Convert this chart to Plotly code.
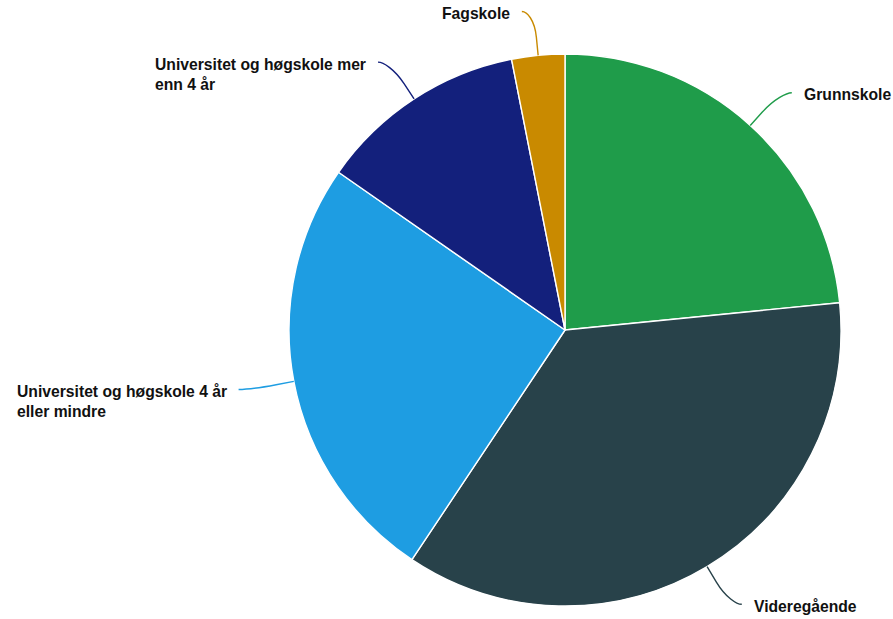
import math
import plotly.graph_objects as go

# Highest completed education (share of population, %)
categories = ["Grunnskole", "Videregående", "Universitet og høgskole 4 år eller mindre",
              "Universitet og høgskole mer enn 4 år", "Fagskole"]
label_text = ["Grunnskole", "Videregående", "Universitet og høgskole 4 år<br>eller mindre",
              "Universitet og høgskole mer<br>enn 4 år", "Fagskole"]
values = [23.4, 35.9, 25.3, 12.2, 3.1]
colors = ["#1f9c4a", "#28424a", "#1e9de2", "#13207c", "#c98a00"]

W, H = 893, 619
CX, CY, R = 565, 330, 276  # pie centre and radius in pixels
LABEL_DIST = 44            # distance of the connector end beyond the rim
LABEL_PUSH = 7             # extra horizontal push of the connector end
TEXT_GAP = 16              # gap between connector end and label text

fig = go.Figure(go.Pie(
    labels=categories,
    values=values,
    sort=False,
    direction="clockwise",
    rotation=0,
    textinfo="none",
    hoverinfo="label+percent",
    marker=dict(colors=colors, line=dict(color="#ffffff", width=1.4)),
    domain=dict(x=[(CX - R) / W, (CX + R) / W], y=[(H - CY - R) / H, (H - CY + R) / H]),
    showlegend=False,
))


def to_paper(px, py):
    return px / W, 1 - py / H


total = sum(values)
cum = 0.0
shapes, annotations = [], []
for lab, v, col in zip(label_text, values, colors):
    mid = (cum + v / 2) / total * 2 * math.pi
    cum += v
    s, c = math.sin(mid), math.cos(mid)
    right = s >= 0
    sign = 1 if right else -1
    touch = (CX + R * s, CY - R * c)
    brk = (CX + (R + 18) * s, CY - (R + 18) * c)
    anc = (CX + (R + LABEL_DIST) * s + sign * LABEL_PUSH, CY - (R + LABEL_DIST) * c)
    start = (anc[0] + sign * 5, anc[1])
    ctrl = (2 * brk[0] - touch[0], 2 * brk[1] - touch[1])
    pts = [to_paper(*p) for p in (start, anc, ctrl, brk, touch)]
    path = "M {0[0]},{0[1]} C {1[0]},{1[1]} {2[0]},{2[1]} {3[0]},{3[1]} L {4[0]},{4[1]}".format(*pts)
    shapes.append(dict(type="path", xref="paper", yref="paper", path=path,
                       line=dict(color=col, width=1.4)))
    tx = anc[0] + sign * TEXT_GAP
    tx_p, ty_p = to_paper(tx, anc[1] + 3 - 10.5)
    annotations.append(dict(
        x=tx_p, y=ty_p, xref="paper", yref="paper", text="<b>" + lab + "</b>",
        showarrow=False, xanchor="left" if right else "right", yanchor="top", align="left",
        font=dict(family="Liberation Sans, Arial, sans-serif", size=15.7, color="#111111"),
        borderpad=0,
    ))

fig.update_layout(
    width=W, height=H,
    margin=dict(l=0, r=0, t=0, b=0),
    paper_bgcolor="#ffffff",
    plot_bgcolor="#ffffff",
    shapes=shapes,
    annotations=annotations,
)

fig.write_html("out.html")
